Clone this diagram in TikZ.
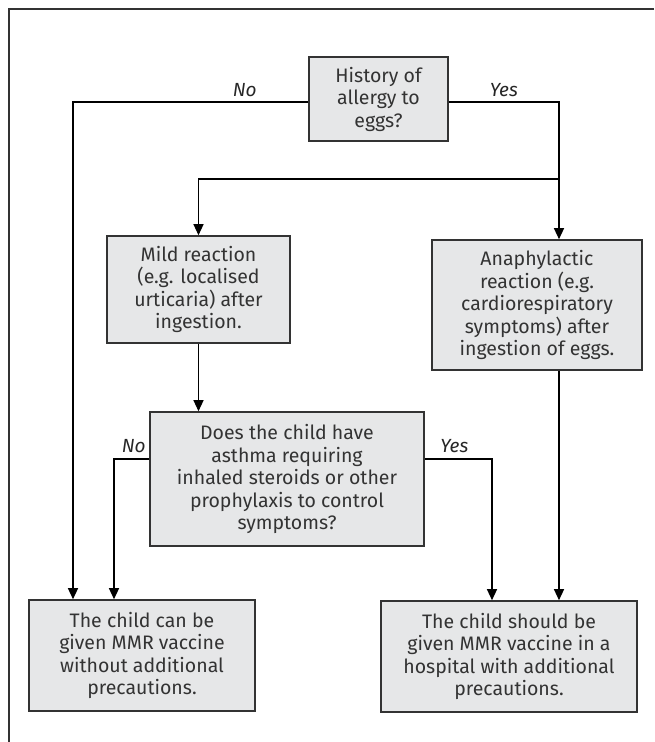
\documentclass[tikz,border=0pt]{standalone}
\usepackage{fontspec}
\setmainfont{Fira Sans}
\usetikzlibrary{arrows.meta, positioning}
\definecolor{boxfill}{HTML}{E6E7E8}
\definecolor{boxline}{HTML}{333333}

\begin{document}
\begin{tikzpicture}[x=1pt, y=-1pt, line width=1.3pt,
		every node/.style={font=\fontsize{19.5}{22.5}\selectfont, text=black!80},
		box/.style={draw=boxline, line width=1.6pt, fill=boxfill, align=center, inner sep=0pt},
		ans/.style={font=\fontsize{19}{22.5}\selectfont\itshape, text=black!85},
		>={Triangle[width=10pt,length=11pt]}]
		\useasboundingbox (0,0) rectangle (654,742);
		\draw[line width=1.6pt, black!80] (654,9) -- (9,9) -- (9,742);
		\node[box, minimum width=139pt, minimum height=84pt] (1) at (378.5,99) {History of\\allergy to\\eggs?};
		\node[box, minimum width=183pt, minimum height=107pt] (2) at (198.5,289.5) {Mild reaction\\(e.g. localised\\urticaria) after\\ingestion.};
		\node[box, minimum width=210pt, minimum height=130pt] (3) at (537,305) {Anaphylactic\\reaction (e.g.\\cardiorespiratory\\symptoms) after\\ingestion of eggs.};
		\node[box, minimum width=274pt, minimum height=134pt] (4) at (287,479) {Does the child have\\asthma requiring\\inhaled steroids or other\\prophylaxis to control\\symptoms?};
		\node[box, minimum width=226pt, minimum height=111pt] (5) at (142,655.5) {The child can be\\given MMR vaccine\\without additional\\precautions.};
		\node[box, minimum width=256pt, minimum height=111pt] (6) at (509,656.5) {The child should be\\given MMR vaccine in a\\hospital with additional\\precautions.};
		\coordinate (split) at (559,179);
		
		\draw[->] ([yshift=-3pt]1.west) -| ([xshift=-69pt]5.north) node [ans, pos=0.135, above=1pt] {No};
		\draw[->] ([yshift=-3pt]1.east) -| ([xshift=22pt]3.north) node [ans, pos=0.25, above=1pt] {Yes};
		\draw[->] (split) -| (2.north);
		\draw[->] (2.south) -- (2.south |- 4.north);
		\draw[->] ([yshift=20pt]4.west) -| ([xshift=-28pt]5.north) node [ans, pos=0.22, above=2pt] {No};
		\draw[->] ([yshift=20pt]4.east) -| ([xshift=-17pt]6.north) node [ans, pos=0.22, above=2pt] {Yes};
		\draw[->] ([xshift=22pt]3.south) -- ([xshift=22pt]3.south |- 6.north);
	\end{tikzpicture}
\end{document}
